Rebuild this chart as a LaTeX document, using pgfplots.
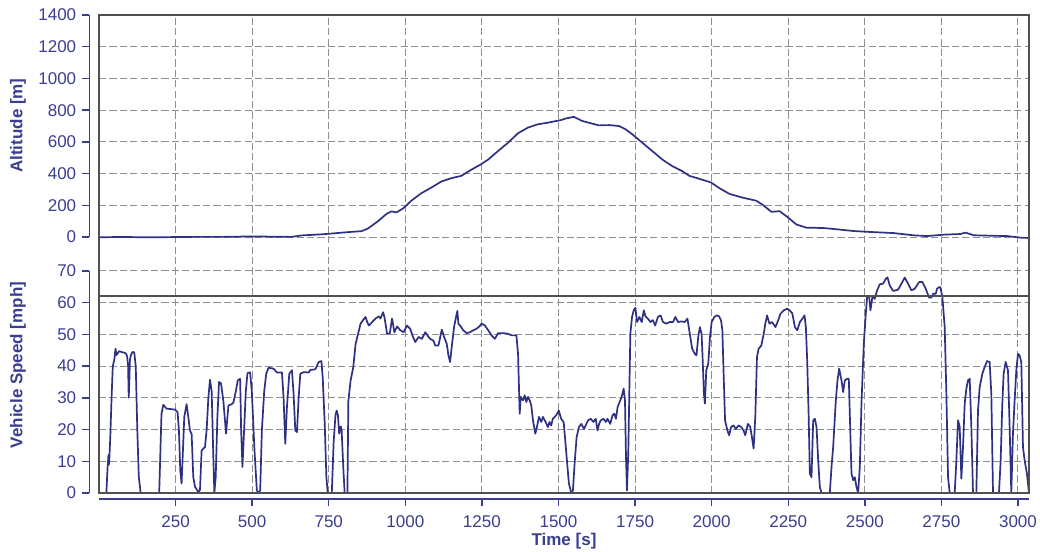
\documentclass[border=0pt]{standalone}
\usepackage{pgfplots}
\usepackage{pgfplotstable}
\pgfplotsset{compat=1.18}
\usetikzlibrary{calc}
\usepackage{fontspec}
\setmainfont{Liberation Sans}

\definecolor{navyline}{HTML}{2E3182}
\definecolor{navytext}{HTML}{3A3E8E}
\definecolor{framegray}{HTML}{505050}
\definecolor{gridgray}{HTML}{8F8F8F}

% altitude [m] over time [s]
\pgfplotstableread{
t alt
0 -2
3.3 -2
52 0
95.7 0
128 -1
182.7 -2
248 0
313 1
400 1
443.5 2
498 4
574 2
628 1
661 10
726 17
759 22
813 31
857 37
878 54
911 100
938 145
954.4 162
970.7 155
992.5 180
1019.7 229
1052 276
1085 312
1117.5 350
1150 371
1183 386
1215 424
1248 460
1270 488
1302 541
1335 594
1367.5 654
1400 690
1433 711
1465 721
1509 738
1523 747
1550 758
1577.4 732
1610 715
1632 704
1665 706
1697.6 700
1719.4 679
1741.3 647
1774 594
1806.9 541
1839.6 488
1872.4 446
1905.2 414
1927 386
1959.8 367
1998 344
2025.4 308
2058 272
2102 248
2145.6 229
2167.4 202
2194.8 159
2222 163
2249.4 123
2276.7 79
2309.5 59
2364 57
2408 49
2462.5 38
2517 32
2593.6 25
2659 11
2703 6
2757.5 15
2812 19
2828.5 28
2856 11
2921.5 8
2965 6
3009 -4
3036 -6
}\altdata

% vehicle speed [mph] over time [s]
\pgfplotstableread{
t v
0 0
24 0
28 8
31 12
33 9
37 18
41 30
45 40
50 42
54 45.5
57 43.5
61 44
65 44.7
72 44.5
80 44.3
88 44
92 43
95 40
97 30
99 35
101 42
105 43.7
110 44.5
115 44.3
120 40
125 20
130 5
136 0
196.5 0
204 25
210 27.8
220.5 26.6
248 26.3
256.5 25.5
261 19.7
265.3 7
269.6 3
273 11
278.4 24
286 28
291.5 24
297 19.7
302.4 18.6
307.8 5
313.3 2
324.2 0.3
329.7 1
335 13.4
340.6 14
346 14.5
351.5 20
357 30
362.4 35.7
367.9 32
373.3 11
376.6 0
381 5
386.5 24
391.9 35
398.5 34.5
406 29
414.8 18.7
422.5 27.6
433.4 28
438.9 28.6
446.5 32
453 35.5
460.7 36
464 20
468.3 8.2
473.8 20
479.2 32
484.7 37.8
493.4 38
498.9 32
507.6 13.4
515.3 0.8
520.7 0
526.2 0.8
531.7 19.7
539.3 32
545.9 37.6
553.5 39.5
569.9 39.2
580.8 38
597.2 38
602.6 30
608.1 15.5
613.5 27
621.2 37.6
629.9 38.7
635.4 31
640.8 19.7
646.3 19.2
651.7 30
657.2 37.6
668.1 38.1
684.5 38
690 38.8
706.3 39
717.2 41.3
726 41.6
730.3 36.5
736.9 21.8
742.3 5
746.7 0
760 0
766 16
772 24.6
776 26
780 24.5
784 18.7
789 21
792 20
798 7
802 0
811 0
814 29
821.4 35.5
830.1 39.7
837.7 47
845.3 50
853.9 53.4
862.6 54.6
870.1 55.5
875.6 53.9
881 52.8
891.8 53.9
902.6 55
913.4 55.7
918.8 55
927.5 57
931.8 55.5
940.5 50.2
949.1 50.2
956.7 55
964.3 50.7
973 52.5
983.8 51.3
994.6 50.7
1005.4 52.8
1016.3 51.7
1024.9 49.2
1032.5 47.6
1043.3 49.2
1054.1 48.6
1065 50.7
1075.8 49.2
1081.2 48.6
1092 48
1097.4 46.5
1108.2 46.5
1119.1 51.5
1126.6 49.2
1135.3 47
1140.7 43.4
1146.1 41.3
1151.5 46
1159.1 52.3
1165.6 55.5
1169.9 57.4
1173.2 53.4
1180.8 52.5
1189.4 51.3
1200.2 50.4
1211.1 50.7
1221.9 51.3
1232.7 51.8
1241.4 52.5
1249 53.4
1259.8 52.8
1270.6 51.3
1281.4 49.7
1292.2 48.6
1303.1 50.4
1319.3 50.4
1335.5 50.2
1346.4 49.7
1362.6 49.7
1368 43.9
1373.4 25
1376.7 30.3
1384.2 29.2
1389.7 30.8
1395.1 28.7
1400.5 30.3
1405.9 29.2
1411.3 27.6
1416.7 22.9
1424.3 18.7
1429.7 20.8
1436.2 24
1443.8 22.4
1449.2 24
1457.8 22.4
1465.4 20.8
1470.8 22.4
1476.2 21.3
1481.6 23.4
1492.5 24.5
1501.1 26
1508.7 23.4
1516.3 22.4
1517.5 21.8
1523 15.5
1528.5 9.2
1534 3
1541.6 0
1547.1 0.8
1552.6 9.2
1559.2 17.6
1566.8 20.8
1574.5 21.8
1583.3 20.2
1588.8 21.3
1596.4 22.9
1605.2 23.4
1614 22.4
1621.7 23.4
1627.2 19.7
1632.6 21.8
1638.1 22.9
1646.9 23.4
1654.6 22.4
1660 23.4
1668.8 21.8
1676.5 24.5
1682 25
1687.5 23.4
1693 27.1
1701.7 29.2
1706.1 30.3
1712.7 32.9
1717.1 29.2
1720.4 11.3
1723.6 0.8
1728 13.4
1731.3 32
1734.6 50.2
1740.1 55.5
1745.6 57.6
1751 58.4
1756.5 53.9
1764.2 55.5
1771.9 53.9
1778.5 57.6
1784 55.7
1791.6 55
1800.4 53.9
1808.1 54.5
1815.7 52.8
1824.5 55.5
1833.3 56
1841 53.9
1851.9 53.4
1862.9 53.9
1873.9 53.9
1881.5 55.5
1890.3 53.9
1901.3 54.1
1912.2 53.9
1921 55
1928.7 50.2
1936.4 45.5
1945.1 43.9
1950.6 43.4
1956.1 49.2
1961.6 52.3
1967.1 50.2
1970.4 42.9
1974.7 31.3
1978 28.2
1982.4 38.7
1989 40.8
1994.5 49.2
2000 53.9
2008.7 55.5
2016.4 56
2024.1 55.7
2030.7 54.4
2035 51.3
2039.4 36.6
2043.8 22.9
2051.5 19.7
2057 18.2
2063.6 20.8
2071.2 21.3
2078.9 20.2
2087.7 21.3
2096.5 20.8
2104.1 19.7
2109.6 18.2
2118.4 21.8
2126.1 20.8
2131.5 17.6
2137 14
2142.5 24
2148 42.9
2153.5 45.5
2162.2 46.5
2169.9 50.2
2175.4 53.4
2180.9 56
2188.6 53.4
2197.3 53.9
2208.3 52.3
2217.1 54.4
2224.7 56.5
2235.7 57.6
2246.7 58.1
2254.4 57.6
2263.1 56.7
2271.9 52.3
2279.6 51.3
2288 53.9
2296.7 55
2303.2 56
2307.6 52.3
2311.9 41.8
2316.3 26
2320.6 6.1
2326 5
2331.5 22.9
2336.9 23.4
2342.4 20.8
2347.8 10.3
2353.2 1.9
2358.7 0
2385.8 0
2391.3 8.2
2396.7 14.5
2405.4 29.2
2410.8 35.5
2416.3 39.2
2423.9 35.5
2429.3 31.8
2434.7 35.5
2442.4 36
2447.8 36
2451 25
2456.5 6.1
2461.9 4
2467.4 5
2472.8 1.9
2478.2 0
2483.7 8.2
2489.1 28.2
2496.7 47
2503.2 56.5
2507.6 61.8
2514.1 62
2518.4 57.6
2525 62
2532.6 61.2
2540.2 63.9
2548.9 65.8
2559.8 66
2568.4 67.5
2573.9 68
2581.5 65.4
2592.4 63.7
2608.7 64.1
2619.5 66
2630.4 67.9
2641.3 66
2652.1 63.9
2663 64.4
2677.1 66.5
2688 66.5
2698.9 64.4
2709.8 61.6
2717.4 61.6
2722.8 62.8
2731.5 62.8
2735.8 64.4
2742.4 64.9
2746.7 64.9
2753.2 61.8
2760.8 52.3
2766.3 31.3
2771.7 5
2777.2 0
2793.5 0
2798.9 10.3
2804.3 22.9
2809.8 20.8
2815.2 4.5
2820.6 14.5
2826.1 28.2
2831.5 32.9
2836.9 35.5
2842.4 36
2847.8 20.8
2853.2 0
2864.1 0
2869.5 26
2875 33.4
2883.7 37.6
2891.3 39.7
2898.9 41.6
2907.6 41.3
2913 31.3
2918.5 0
2938 0
2943.5 10.3
2948.9 28.2
2953.2 37.6
2959.8 41.3
2967.4 38.7
2972.8 20.8
2978.2 0
2983.7 19
2989.1 29.2
2994.6 38.7
3000 43.9
3005.4 43.4
3010.9 41.3
3016.3 14.5
3021.7 10.3
3029.3 6.1
3035.9 0
}\speeddata

\tikzset{yline/.style={navytext, line width=0.7pt}}

\pgfplotsset{
  stacked/.style={
    at={(0,0)}, anchor=south west, scale only axis,
    width=465pt, height=239pt,
    xmin=0, xmax=3036,
    clip=false,
    axis line style={draw=none},
    tick style={draw=none},
    scaled ticks=false,
    /pgf/number format/set thousands separator={},
    /pgf/number format/assume math mode=true,
    ticklabel style={text=navytext, font=\fontsize{8.5}{10}\selectfont},
    yticklabel style={anchor=east, inner sep=0pt, xshift=-11.2pt},
    xticklabel style={anchor=north, inner sep=0pt, yshift=-11pt},
    xtick={250,500,...,3000},
    grid style={gridgray, line width=0.5pt, dash pattern=on 3.6pt off 1.6pt},
  },
}

\begin{document}
\begin{tikzpicture}[x=1pt,y=1pt]
% altitude
\begin{axis}[stacked,
  ymin=-1614, ymax=1400,
  ytick={0,200,...,1400},
  xticklabels={},
  xmajorgrids=true, ymajorgrids=true]
\addplot[navyline, line width=0.85pt, line join=round] table[x=t, y=alt] {\altdata};
\coordinate (altlo) at (axis cs:0,0);
\coordinate (althi) at (axis cs:0,1400);
\end{axis}
% vehicle speed
\begin{axis}[stacked,
  ymin=0, ymax=150.7,
  ytick={0,10,...,70},
  ymajorgrids=true, xmajorgrids=false]
\addplot[navyline, line width=0.85pt, line join=round] table[x=t, y=v] {\speeddata};
\draw[framegray, line width=0.8pt] (axis cs:0,62.2) -- (axis cs:3036,62.2);
\coordinate (spdlo) at (axis cs:0,0);
\coordinate (spdhi) at (axis cs:0,70);
\coordinate (tstep) at (axis cs:250,0);
\coordinate (tend) at (axis cs:3036,0);
\end{axis}
% offset axis lines with outward ticks
\draw[yline] ([xshift=-4.8pt]altlo) -- ([xshift=-4.8pt]althi);
\foreach \k in {0,...,7}
  \draw[yline] ($([xshift=-4.8pt]altlo)!\k/7!([xshift=-4.8pt]althi)$) -- ++(-3.8pt,0pt);
\draw[yline] ([xshift=-4.8pt]spdlo) -- ([xshift=-4.8pt]spdhi);
\foreach \k in {0,...,7}
  \draw[yline] ($([xshift=-4.8pt]spdlo)!\k/7!([xshift=-4.8pt]spdhi)$) -- ++(-3.8pt,0pt);
\draw[yline] ([yshift=-3pt]spdlo) -- ([yshift=-3pt]tend);
\foreach \k in {1,...,12}
  \draw[yline] ($([yshift=-3pt]spdlo)!\k!([yshift=-3pt]tstep)$) -- ++(0pt,-3.6pt);
\draw[framegray, line width=0.8pt] (0,0) rectangle (465,239);
\node[rotate=90, text=navytext, font=\bfseries\fontsize{8.5}{10}\selectfont] at (-40.5,183.7) {Altitude [m]};
\node[rotate=90, text=navytext, font=\bfseries\fontsize{8.5}{10}\selectfont] at (-40.5,64) {Vehicle Speed [mph]};
\node[text=navytext, font=\bfseries\fontsize{8.5}{10}\selectfont] at (232.5,-24) {Time [s]};
\pgfresetboundingbox
\path[use as bounding box] (-49.5,-29.5) rectangle (470.5,246.5);
\end{tikzpicture}
\end{document}
